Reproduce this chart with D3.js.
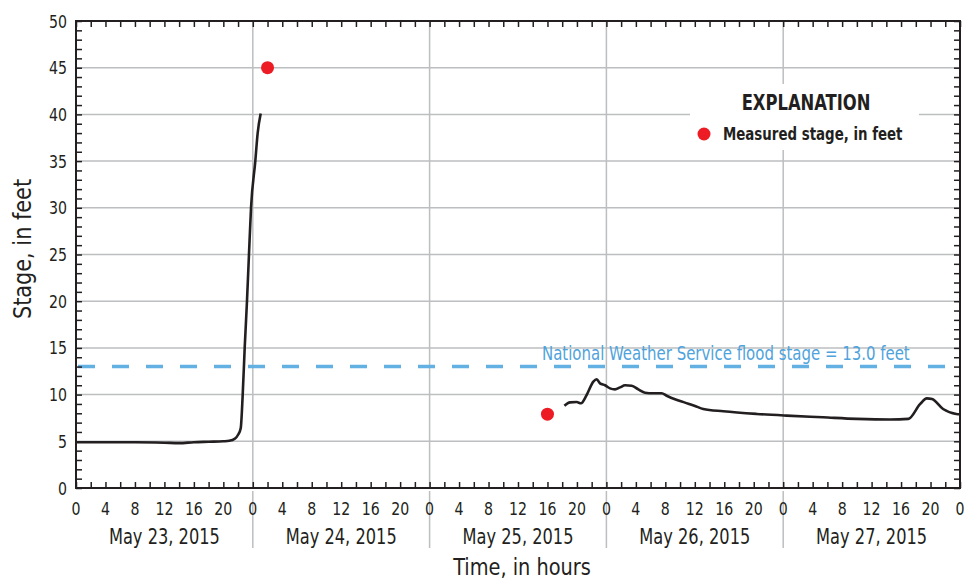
<!DOCTYPE html>
<html>
<head>
<meta charset="utf-8">
<script src="https://cdn.jsdelivr.net/npm/d3@7"></script>
<style>
  html, body { margin: 0; padding: 0; background: #fff; }
  svg { display: block; }
  text { font-family: "DejaVu Sans Condensed", "Liberation Sans Narrow", sans-serif; fill: #231f20; }
</style>
</head>
<body>
<svg id="chart" width="977" height="579"></svg>
<script>
// Hours are counted from 0:00 on May 23, 2015.
const dayLabels = ["May 23, 2015", "May 24, 2015", "May 25, 2015", "May 26, 2015", "May 27, 2015"];
const hourTickLabels = [0, 4, 8, 12, 16, 20];
const stageTicks = [0, 5, 10, 15, 20, 25, 30, 35, 40, 45, 50];

// Continuous gage record, first part (rise to the peak before the gage was lost)
const recordA_hours = [0, 4, 8, 12, 14, 16, 18, 20, 20.8, 21.6, 22.0, 22.36, 22.63, 22.9, 23.21, 23.48, 23.76, 24.34, 24.66, 25.07];
const recordA_stage = [4.9, 4.9, 4.9, 4.85, 4.8, 4.9, 4.95, 5.0, 5.05, 5.3, 5.7, 6.4, 10.0, 15.0, 20.0, 25.0, 30.0, 35.0, 38.0, 40.1];

// Continuous gage record, second part (after the gage came back)
const recordB_hours = [66.3, 67.06, 67.97, 68.55, 69.32, 70.23, 70.68, 71.13, 71.81, 72.49, 73.17, 73.85, 74.53, 75.43, 76.33, 77.24, 78.37, 79.5, 80.18, 81.31, 82.67, 84.03, 85.15, 87.87, 92.4, 96.47, 101.4, 106.0, 110.5, 113.0, 114.6, 115.5, 116.2, 117.7, 119.5, 120];
const recordB_stage = [8.8, 9.17, 9.2, 9.07, 9.96, 11.39, 11.64, 11.2, 11.0, 10.67, 10.56, 10.77, 11.0, 10.95, 10.56, 10.2, 10.14, 10.14, 9.88, 9.5, 9.14, 8.78, 8.46, 8.21, 7.93, 7.75, 7.57, 7.4, 7.33, 7.4, 9.0, 9.6, 9.53, 8.46, 7.93, 7.9];

// Measured stages
const measured_hours = [26, 64];
const measured_stage = [45, 7.9];

const floodStage = 13.0;

const svg = d3.select("#chart");
const plotLeft = 76, plotRight = 960, plotTop = 21, plotBottom = 488;
const x = d3.scaleLinear().domain([0, 120]).range([plotLeft, plotRight]);
const y = d3.scaleLinear().domain([0, 50]).range([plotBottom, plotTop]);

const grid = "#bcbec0", ink = "#231f20";

// Text helper: places a horizontally condensed label
function label(parent, px, py, str, o = {}) {
  const sx = o.sx ?? 0.88;
  const t = parent.append("text")
    .attr("transform", `translate(${px},${py})${o.rotate ? ` rotate(${o.rotate})` : ""} scale(${sx},1)`)
    .attr("font-size", o.size ?? 18)
    .attr("text-anchor", o.anchor ?? "start")
    .text(str);
  if (o.weight) t.attr("font-weight", o.weight);
  if (o.fill) t.style("fill", o.fill);
  return t;
}

// Gridlines
const g = svg.append("g");
g.selectAll("line.hg").data(stageTicks.filter(d => d > 0 && d < 50)).enter().append("line")
  .attr("x1", plotLeft).attr("x2", plotRight).attr("y1", d => y(d)).attr("y2", d => y(d))
  .attr("stroke", grid).attr("stroke-width", 1.5);
const dayBounds = [24, 48, 72, 96];
g.selectAll("line.vg").data(dayBounds).enter().append("line")
  .attr("x1", d => x(d)).attr("x2", d => x(d)).attr("y1", plotTop).attr("y2", plotBottom)
  .attr("stroke", grid).attr("stroke-width", 1.5);
// Day separators below the axis
g.selectAll("line.sep").data(dayBounds).enter().append("line")
  .attr("x1", d => x(d)).attr("x2", d => x(d)).attr("y1", 491).attr("y2", 548)
  .attr("stroke", grid).attr("stroke-width", 1.5);

// Explanation box (white, covers gridlines)
svg.append("rect").attr("x", 690).attr("y", 84).attr("width", 229).attr("height", 66).attr("fill", "#fff");

// Flood stage line
svg.append("line")
  .attr("x1", plotLeft + 2).attr("x2", plotRight).attr("y1", y(floodStage)).attr("y2", y(floodStage))
  .attr("stroke", "#63b0e3").attr("stroke-width", 3.5).attr("stroke-dasharray", "17 17");
label(svg, 542, 360, "National Weather Service flood stage = 13.0 feet", { size: 19.5, sx: 0.853, fill: "#4fa3dc" });

// Axes: hour ticks every 2 hours on top and bottom, stage ticks every foot on both sides
const hourTicks = d3.range(0, 121, 2);
const stageMinor = d3.range(0, 51, 1);
const axes = svg.append("g").attr("stroke", ink).attr("stroke-width", 1.5);
axes.append("rect").attr("x", plotLeft).attr("y", plotTop).attr("width", plotRight - plotLeft).attr("height", plotBottom - plotTop)
  .attr("fill", "none").attr("stroke-width", 2);
axes.append("g").attr("transform", `translate(0,${plotBottom})`)
  .call(d3.axisTop(x).tickValues(hourTicks).tickSize(6).tickFormat(""))
  .call(s => s.select(".domain").remove());
axes.append("g").attr("transform", `translate(0,${plotTop})`)
  .call(d3.axisBottom(x).tickValues(hourTicks).tickSize(6).tickFormat(""))
  .call(s => s.select(".domain").remove());
axes.append("g").attr("transform", `translate(${plotLeft},0)`)
  .call(d3.axisRight(y).tickValues(stageMinor).tickSize(6).tickFormat(""))
  .call(s => s.select(".domain").remove());
axes.append("g").attr("transform", `translate(${plotRight},0)`)
  .call(d3.axisLeft(y).tickValues(stageMinor).tickSize(6).tickFormat(""))
  .call(s => s.select(".domain").remove());
axes.selectAll(".tick line").attr("stroke", ink).attr("stroke-width", 1.5);

// Stage tick labels
const yl = svg.append("g");
stageTicks.forEach(d => label(yl, 67, y(d) + 6.5, d, { size: 18.5, anchor: "end", sx: 0.85 }));

// Hour tick labels
const xl = svg.append("g");
for (let d = 0; d < 5; d++) hourTickLabels.forEach(h => label(xl, x(d * 24 + h), 515, h, { size: 18.5, anchor: "middle", sx: 0.85 }));
label(xl, x(120), 515, 0, { size: 18.5, anchor: "middle", sx: 0.85 });

// Day labels
dayLabels.forEach((d, i) => label(xl, x(i * 24 + 12), 544, d, { size: 21.5, anchor: "middle", sx: 0.84 }));

// Axis titles
label(svg, 522, 575, "Time, in hours", { size: 23.5, anchor: "middle", sx: 0.915 });
label(svg, 31, 249, "Stage, in feet", { size: 24, anchor: "middle", sx: 0.965, rotate: -90 });

// Gage record lines
const line = d3.line().x(d => x(d[0])).y(d => y(d[1])).curve(d3.curveMonotoneX);
const drawRecord = (hrs, stg) => svg.append("path")
  .datum(hrs.map((h, i) => [h, stg[i]]))
  .attr("d", line).attr("fill", "none").attr("stroke", ink).attr("stroke-width", 2.6)
  .attr("stroke-linejoin", "round");
drawRecord(recordA_hours, recordA_stage);
drawRecord(recordB_hours, recordB_stage);

// Measured stage points
svg.append("g").selectAll("circle").data(measured_hours.map((h, i) => [h, measured_stage[i]])).enter()
  .append("circle").attr("cx", d => x(d[0])).attr("cy", d => y(d[1])).attr("r", 6.5).attr("fill", "#ed1c24");

// Explanation
label(svg, 806, 110, "EXPLANATION", { size: 21, anchor: "middle", weight: "bold", sx: 0.867 });
svg.append("circle").attr("cx", 704).attr("cy", 134).attr("r", 6.5).attr("fill", "#ed1c24");
label(svg, 723, 140, "Measured stage, in feet", { size: 18, weight: "bold", sx: 0.825 });
</script>
</body>
</html>
